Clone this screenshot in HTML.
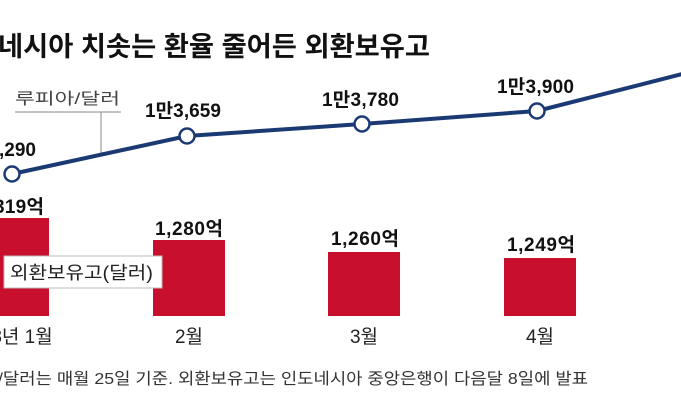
<!DOCTYPE html>
<html><head><meta charset="utf-8"><style>
body{margin:0;width:681px;height:400px;background:#fff;overflow:hidden;font-family:"Liberation Sans","Noto Sans CJK KR",sans-serif}
</style></head><body>
<svg width="681" height="400" xmlns="http://www.w3.org/2000/svg" font-family="Liberation Sans, Noto Sans CJK KR, sans-serif">
<text x="-2" y="56" font-size="27" font-weight="bold" fill="#111" textLength="432" lengthAdjust="spacingAndGlyphs">네시아 치솟는 환율 줄어든 외환보유고</text>
<text x="15" y="104" font-size="16" fill="#444" textLength="105" lengthAdjust="spacingAndGlyphs">루피아/달러</text>
<line x1="15" y1="112" x2="121" y2="112" stroke="#888" stroke-width="1"/>
<line x1="101" y1="112" x2="101" y2="153" stroke="#888" stroke-width="1"/>
<rect x="-5" y="218" width="54" height="98" fill="#c8102e"/>
<rect x="153" y="240" width="72" height="76" fill="#c8102e"/>
<rect x="328" y="252" width="72" height="64" fill="#c8102e"/>
<rect x="504" y="258" width="72" height="58" fill="#c8102e"/>
<rect x="4" y="256" width="158" height="32" fill="#fff" stroke="#bbb"/>
<text x="10" y="279" font-size="18" fill="#222" textLength="143" lengthAdjust="spacingAndGlyphs">외환보유고(달러)</text>
<g font-size="19" font-weight="bold" fill="#111" lengthAdjust="spacingAndGlyphs">
<text x="-6" y="213" textLength="50">319억</text>
<text x="155" y="235" textLength="68">1,280억</text>
<text x="331" y="245" textLength="68">1,260억</text>
<text x="507" y="251" textLength="68">1,249억</text>
<text x="-1" y="156">,290</text>
<text x="145" y="117" textLength="76">1만3,659</text>
<text x="322" y="106" textLength="77">1만3,780</text>
<text x="497" y="93" textLength="77">1만3,900</text>
</g>
<polyline points="12,174 187,136 362,124 537,111 690,72" fill="none" stroke="#1b3a73" stroke-width="4"/>
<g fill="#fff" stroke="#1b3a73" stroke-width="2.5">
<circle cx="12" cy="174" r="7.5"/><circle cx="187" cy="136" r="7.5"/><circle cx="362" cy="124" r="7.5"/><circle cx="537" cy="111" r="7.5"/>
</g>
<g font-size="19" fill="#222" text-anchor="middle">
<text x="22" y="343">8년 1월</text>
<text x="189" y="343">2월</text>
<text x="364" y="343">3월</text>
<text x="540" y="343">4월</text>
</g>
<text x="-2" y="384" font-size="16" fill="#333" textLength="590" lengthAdjust="spacingAndGlyphs">/달러는 매월 25일 기준. 외환보유고는 인도네시아 중앙은행이 다음달 8일에 발표</text>
</svg>
</body></html>
